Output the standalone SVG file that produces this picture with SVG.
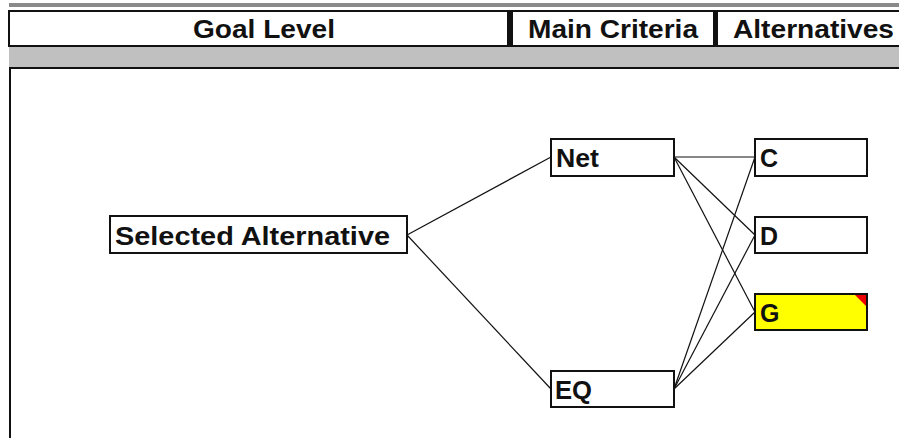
<svg xmlns="http://www.w3.org/2000/svg" width="899" height="438" viewBox="0 0 899 438">
  <style>
    .hdr { font-family: "Liberation Sans", Arial, sans-serif; font-weight: bold; font-size: 26px; fill: #111; }
    .lbl { font-family: "Liberation Sans", Arial, sans-serif; font-weight: bold; font-size: 25px; fill: #111; }
    .box { fill: #ffffff; stroke: #111; stroke-width: 2; }
    .sel { fill: #ffff00; stroke: #111; stroke-width: 2; }
    .link { stroke: #111; stroke-width: 1.2; fill: none; }
  </style>

  <!-- window background -->
  <rect x="0" y="0" width="899" height="438" fill="#ffffff"/>

  <!-- header strip -->
  <g id="header">
    <rect x="9" y="3" width="890" height="4" fill="#8a8a8a"/>
    <rect x="9" y="11" width="891" height="35" fill="#ffffff" stroke="#111" stroke-width="2"/>
    <rect x="507" y="11" width="6" height="35" fill="#111"/>
    <rect x="713" y="11" width="5" height="35" fill="#111"/>
    <text class="hdr" x="264" y="38" text-anchor="middle" textLength="142" lengthAdjust="spacingAndGlyphs">Goal Level</text>
    <text class="hdr" x="528" y="38" textLength="170" lengthAdjust="spacingAndGlyphs">Main Criteria</text>
    <text class="hdr" x="733" y="38" textLength="161" lengthAdjust="spacingAndGlyphs">Alternatives</text>
    <rect x="9" y="47" width="890" height="20" fill="#c0c0c0"/>
  </g>

  <!-- drawing area frame -->
  <g id="canvas">
    <rect x="9" y="67" width="891" height="2" fill="#111"/>
    <rect x="9" y="67" width="2" height="371" fill="#111"/>
  </g>

  <!-- connectors -->
  <g id="connectors">
    <line class="link" x1="407" y1="235" x2="551" y2="157"/>
    <line class="link" x1="407" y1="235" x2="551" y2="389"/>
    <line class="link" x1="674" y1="157" x2="755" y2="157"/>
    <line class="link" x1="674" y1="157" x2="755" y2="235"/>
    <line class="link" x1="674" y1="157" x2="755" y2="312"/>
    <line class="link" x1="674" y1="389" x2="755" y2="157"/>
    <line class="link" x1="674" y1="389" x2="755" y2="235"/>
    <line class="link" x1="674" y1="389" x2="755" y2="312"/>
  </g>

  <!-- nodes -->
  <g id="node-goal">
    <rect class="box" x="110" y="216" width="297" height="37"/>
    <text class="lbl" x="115" y="245" textLength="275" lengthAdjust="spacingAndGlyphs">Selected Alternative</text>
  </g>
  <g id="node-net">
    <rect class="box" x="551" y="139" width="123" height="37"/>
    <text class="lbl" x="556" y="167" textLength="43" lengthAdjust="spacingAndGlyphs">Net</text>
  </g>
  <g id="node-eq">
    <rect class="box" x="551" y="371" width="123" height="36"/>
    <text class="lbl" x="555" y="399" textLength="37" lengthAdjust="spacingAndGlyphs">EQ</text>
  </g>
  <g id="node-c">
    <rect class="box" x="755" y="139" width="112" height="37"/>
    <text class="lbl" x="760" y="167">C</text>
  </g>
  <g id="node-d">
    <rect class="box" x="755" y="217" width="112" height="36"/>
    <text class="lbl" x="760" y="245">D</text>
  </g>
  <g id="node-g">
    <rect class="sel" x="755" y="294" width="112" height="36"/>
    <polygon points="855,295 866,295 866,306" fill="#ee0000"/>
    <text class="lbl" x="760" y="322">G</text>
  </g>
</svg>
